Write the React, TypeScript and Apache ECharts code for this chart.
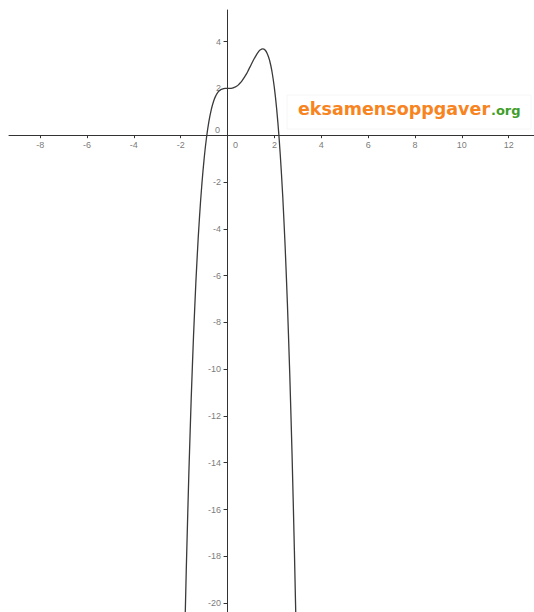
import React, { useEffect, useRef } from "react";
import * as echarts from "echarts";

// Curve points (x, y)
const curveX = [
  -1.95, -1.82, -1.7, -1.6, -1.5, -1.4, -1.3, -1.2, -1.1, -1.0, -0.9, -0.8, -0.7, -0.6,
  -0.5, -0.4, -0.3, -0.2, -0.1, 0.0, 0.1, 0.2, 0.3, 0.4, 0.5, 0.6, 0.7, 0.8, 0.9,
  1.0, 1.1, 1.2, 1.3, 1.4, 1.5, 1.6, 1.7, 1.8, 1.9, 2.0, 2.1, 2.2, 2.3, 2.4, 2.5,
  2.6, 2.7, 2.8, 2.9, 2.95, 3.0,
];
const curveY = [
  -27.3, -21.03, -16.18, -12.75, -9.81, -7.33, -5.25, -3.53, -2.13, -1.0, -0.11, 0.57, 1.07, 1.44,
  1.69, 1.85, 1.94, 1.98, 2.0, 2.0, 2.0, 2.01, 2.05, 2.1, 2.19, 2.3, 2.45, 2.61, 2.8,
  3.0, 3.2, 3.38, 3.54, 3.65, 3.69, 3.64, 3.47, 3.17, 2.69, 2.0, 1.07, -0.13, -1.65, -3.53, -5.81,
  -8.55, -11.78, -15.56, -19.95, -22.39, -25.0,
];

const xTicks = [-8, -6, -4, -2, 0, 2, 4, 6, 8, 10, 12];
const yTicks = [4, 2, 0, -2, -4, -6, -8, -10, -12, -14, -16, -18, -20];

const xRange = [-9.33, 13.08];
const yRange = [-20.38, 5.35];

const watermarkMain = "eksamensoppgaver";
const watermarkTld = ".org";

export default function App() {
  const ref = useRef<HTMLDivElement>(null);

  useEffect(() => {
    if (!ref.current) return;
    const chart = echarts.init(ref.current, null, { renderer: "svg" });
    const data = curveX.map((x, i) => [x, curveY[i]]);
    const labelStyle = {
      fontFamily: "Liberation Sans, Arial, sans-serif",
      fontSize: 9,
      color: "#555",
    };
    const xLabelData = xTicks.map((t) => ({
      value: [t, 0],
      label: t === 0 ? { offset: [8, 0] } : {},
    }));
    const yLabelData = yTicks.map((t) => ({
      value: [0, t],
      label: t === 0 ? { offset: [-1, -5] } : {},
    }));
    chart.setOption({
      animation: false,
      backgroundColor: "#ffffff",
      grid: {
        left: 9,
        right: 0,
        top: 10,
        bottom: 0,
        containLabel: false,
        outerBoundsMode: "none",
      },
      xAxis: {
        type: "value",
        min: xRange[0],
        max: xRange[1],
        axisLine: { onZero: true, lineStyle: { color: "#333", width: 1 } },
        axisTick: {
          show: true,
          length: 3,
          customValues: xTicks,
          lineStyle: { color: "#333" },
        },
        axisLabel: { show: false },
        splitLine: { show: false },
      },
      yAxis: {
        type: "value",
        min: yRange[0],
        max: yRange[1],
        axisLine: { onZero: true, lineStyle: { color: "#333", width: 1 } },
        axisTick: {
          show: true,
          length: 4,
          customValues: yTicks,
          lineStyle: { color: "#333" },
        },
        axisLabel: { show: false },
        splitLine: { show: false },
      },
      graphic: [
        {
          type: "rect",
          shape: { x: 287, y: 95, width: 244, height: 34 },
          style: { fill: "#ffffff", stroke: "#f6f6f6", lineWidth: 1 },
          z: 1,
        },
        {
          type: "text",
          x: 298,
          y: 108.5,
          style: {
            text: watermarkMain,
            fill: "#f7841f",
            font: "bold 17.5px 'DejaVu Sans', Verdana, sans-serif",
            verticalAlign: "middle",
            align: "left",
          },
          z: 2,
        },
        {
          type: "text",
          x: 491,
          y: 110,
          style: {
            text: watermarkTld,
            fill: "#3f9e2a",
            font: "bold 13px 'DejaVu Sans', Verdana, sans-serif",
            verticalAlign: "middle",
            align: "left",
          },
          z: 2,
        },
      ],
      series: [
        {
          type: "line",
          data,
          showSymbol: false,
          symbol: "none",
          smooth: true,
          clip: true,
          lineStyle: { color: "#3a3a3a", width: 1.3 },
          z: 5,
        },
        {
          type: "scatter",
          data: xLabelData,
          symbolSize: 1,
          itemStyle: { color: "rgba(0,0,0,0)" },
          silent: true,
          clip: false,
          label: {
            show: true,
            position: "bottom",
            distance: 5,
            ...labelStyle,
            formatter: (p: any) => String(p.value[0]),
          },
          z: 3,
        },
        {
          type: "scatter",
          data: yLabelData,
          symbolSize: 1,
          itemStyle: { color: "rgba(0,0,0,0)" },
          silent: true,
          clip: false,
          label: {
            show: true,
            position: "left",
            distance: 6,
            ...labelStyle,
            formatter: (p: any) => String(p.value[1]),
          },
          z: 3,
        },
      ],
    });
    return () => chart.dispose();
  }, []);

  return (
    <div
      ref={ref}
      style={{ position: "fixed", left: 0, top: 0, width: 534, height: 612, background: "#fff" }}
    />
  );
}
